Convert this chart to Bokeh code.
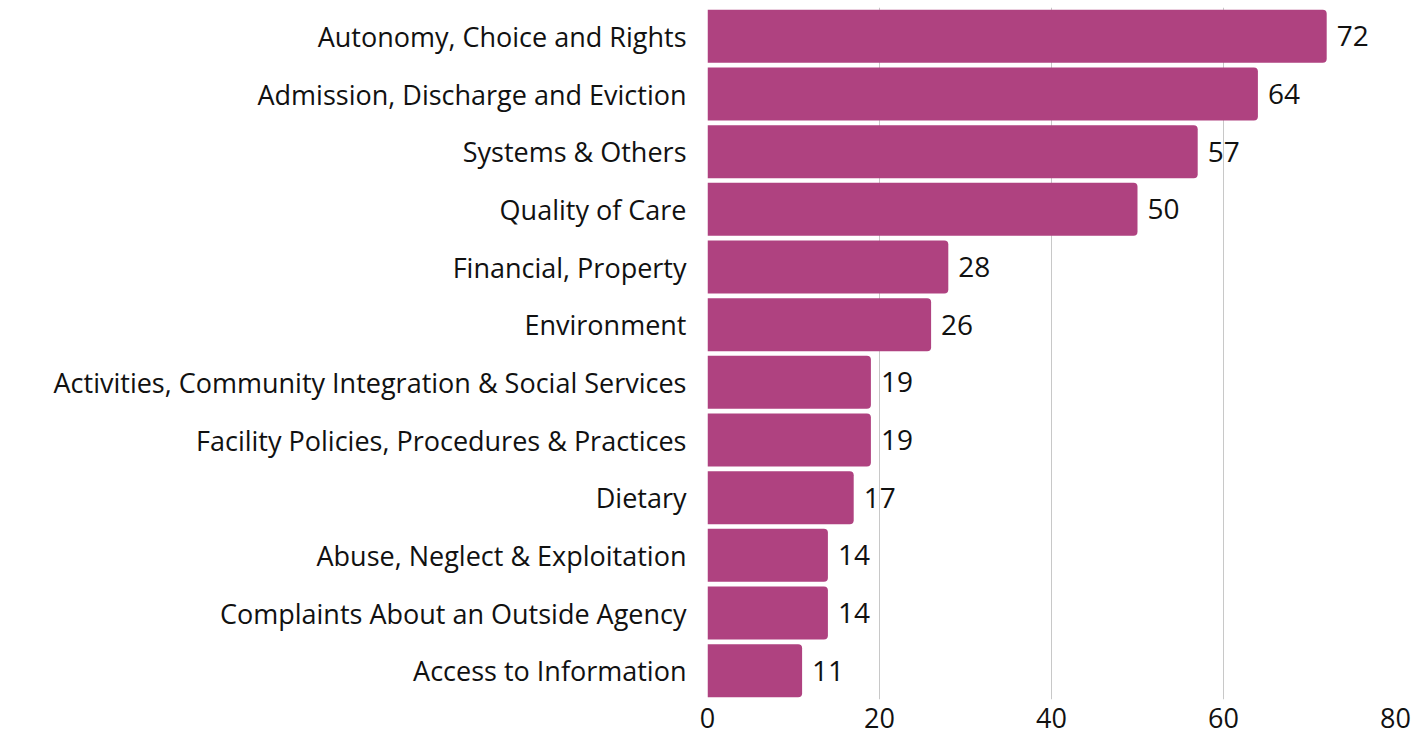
from bokeh.plotting import figure
from bokeh.models import ColumnDataSource, FactorRange, Range1d, FixedTicker
from bokeh.core.properties import value
from bokeh.embed import file_html
from bokeh.resources import INLINE

categories = [
    "Autonomy, Choice and Rights",
    "Admission, Discharge and Eviction",
    "Systems & Others",
    "Quality of Care",
    "Financial, Property",
    "Environment",
    "Activities, Community Integration & Social Services",
    "Facility Policies, Procedures & Practices",
    "Dietary",
    "Abuse, Neglect & Exploitation",
    "Complaints About an Outside Agency",
    "Access to Information",
]
counts = [72, 64, 57, 50, 28, 26, 19, 19, 17, 14, 14, 11]
x_ticks = [0, 20, 40, 60, 80]

FONT = "Open Sans"
src = ColumnDataSource(dict(cat=categories, val=counts, lab=[str(v) for v in counts]))

p = figure(
    y_range=FactorRange(*reversed(categories), range_padding=0),
    x_range=Range1d(0, 80),
    width=1413, height=738,
    frame_width=688, frame_height=692,
    min_border_left=707, min_border_right=18, min_border_top=7, min_border_bottom=39,
    output_backend="svg", toolbar_location=None,
)
p.hbar(y="cat", right="val", left=0, height=0.92, source=src,
       fill_color="#AF4280", line_color=None, border_radius=(0, 4, 4, 0))
p.text(x="val", y="cat", text="lab", source=src, x_offset=10,
       text_baseline="middle", text_align="left",
       text_font=value(FONT), text_font_size="28px", text_color="#111111")

p.outline_line_color = None
p.ygrid.grid_line_color = None
p.xgrid.grid_line_color = "#c8c8c8"
p.xgrid.grid_line_width = 1
p.xaxis.ticker = FixedTicker(ticks=x_ticks)
for ax in (p.xaxis[0], p.yaxis[0]):
    ax.axis_line_color = None
    ax.major_tick_line_color = None
    ax.minor_tick_line_color = None
    ax.major_label_text_font = FONT
    ax.major_label_text_color = "#111111"
p.yaxis.major_label_text_font_size = "27px"
p.xaxis.major_label_text_font_size = "27px"
p.xaxis.major_label_standoff = 2
p.yaxis.major_label_standoff = 15

open("out.html", "w").write(file_html(p, INLINE))
